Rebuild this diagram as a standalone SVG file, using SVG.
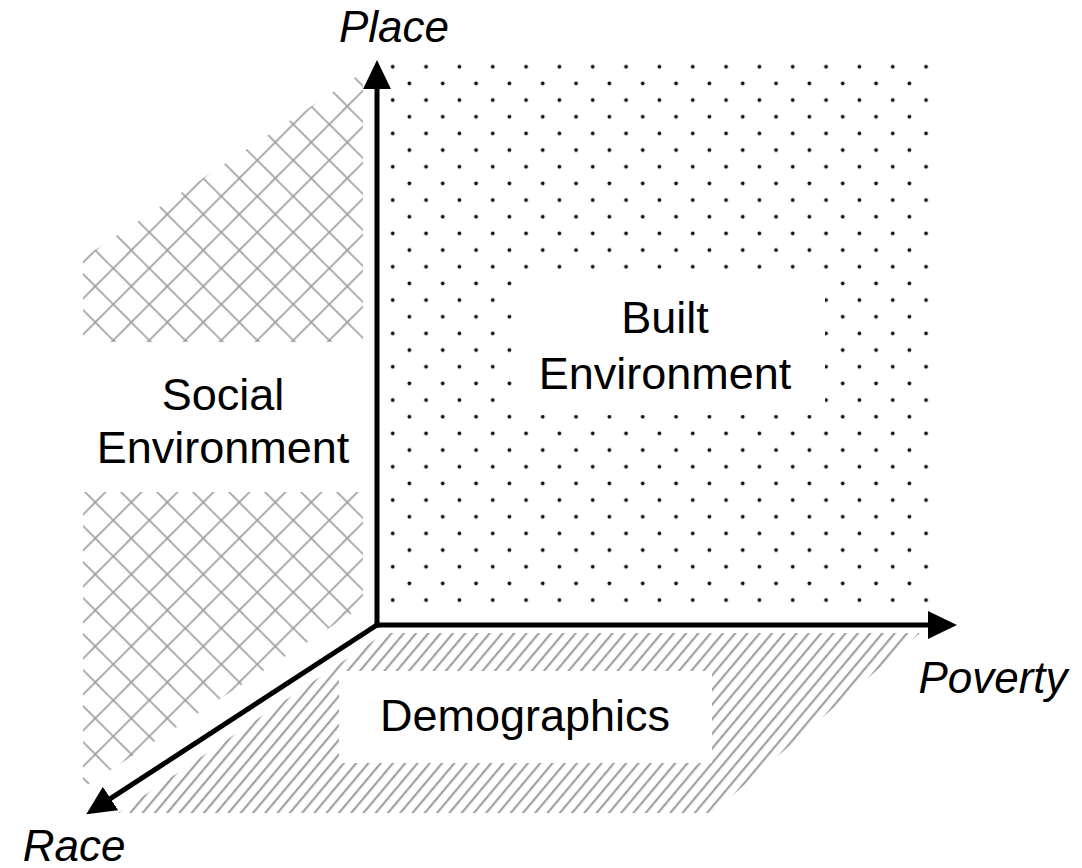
<svg xmlns="http://www.w3.org/2000/svg" width="1082" height="868" viewBox="0 0 1082 868">
  <style>
    .lbl { font-family: "Liberation Sans", Arial, sans-serif; font-size: 45px; fill: #000; text-anchor: middle; }
    .axl { font-family: "Liberation Sans", Arial, sans-serif; font-size: 44px; font-style: italic; fill: #000; text-anchor: middle; }
    .axis { stroke: #000; stroke-width: 5; fill: none; stroke-linecap: square; }
  </style>
  <defs>
    <pattern id="cross" patternUnits="userSpaceOnUse" x="95.3" y="268.3" width="36" height="36">
      <path d="M0,18 L18,36 M18,0 L36,18 M0,18 L18,0 M18,36 L36,18" stroke="#9a9a9a" stroke-width="1.6" stroke-linecap="square" fill="none"/>
    </pattern>
    <pattern id="dots" patternUnits="userSpaceOnUse" x="384.4" y="58.4" width="33.333" height="33.333">
      <circle cx="8.33" cy="8.33" r="1.9" fill="#111"/>
      <circle cx="25" cy="25" r="1.9" fill="#111"/>
    </pattern>
    <pattern id="hatch" patternUnits="userSpaceOnUse" width="9.4" height="20" patternTransform="rotate(40)">
      <line x1="2" y1="0" x2="2" y2="20" stroke="#a0a0a0" stroke-width="2.2"/>
    </pattern>
    <marker id="head" markerUnits="userSpaceOnUse" markerWidth="30" markerHeight="30" refX="0" refY="13" orient="auto" viewBox="0 0 28 26">
      <path d="M0,0 L27,13 L0,26 Z" fill="#000"/>
    </marker>
  </defs>
  <rect width="1082" height="868" fill="#fff"/>

  <g id="social">
    <polygon points="83,258 363,72 363,606 83,788" fill="url(#cross)"/>
    <rect x="82" y="342" width="282" height="150" fill="#fff"/>
    <text class="lbl" x="223" y="410">Social</text>
    <text class="lbl" x="223" y="463">Environment</text>
  </g>

  <g id="built">
    <rect x="385" y="58" width="552" height="555" fill="url(#dots)"/>
    <rect x="515" y="276" width="310" height="139" fill="#fff"/>
    <text class="lbl" x="665" y="333">Built</text>
    <text class="lbl" x="665" y="389">Environment</text>
  </g>

  <g id="demographics">
    <polygon points="385,633 920,633 712,813 118,813" fill="url(#hatch)"/>
    <rect x="339" y="671" width="373" height="92" fill="#fff"/>
    <text class="lbl" x="525" y="731">Demographics</text>
  </g>

  <g id="connectors">
    <line class="axis" x1="377" y1="625" x2="377" y2="89" marker-end="url(#head)"/>
    <line class="axis" x1="377" y1="625" x2="928" y2="625" marker-end="url(#head)"/>
    <line class="axis" x1="377" y1="625" x2="110.5" y2="798.5" marker-end="url(#head)"/>
  </g>

  <g id="labels">
    <text class="axl" x="394" y="42">Place</text>
    <text class="axl" x="993" y="693">Poverty</text>
    <text class="axl" x="74" y="861">Race</text>
  </g>
</svg>
